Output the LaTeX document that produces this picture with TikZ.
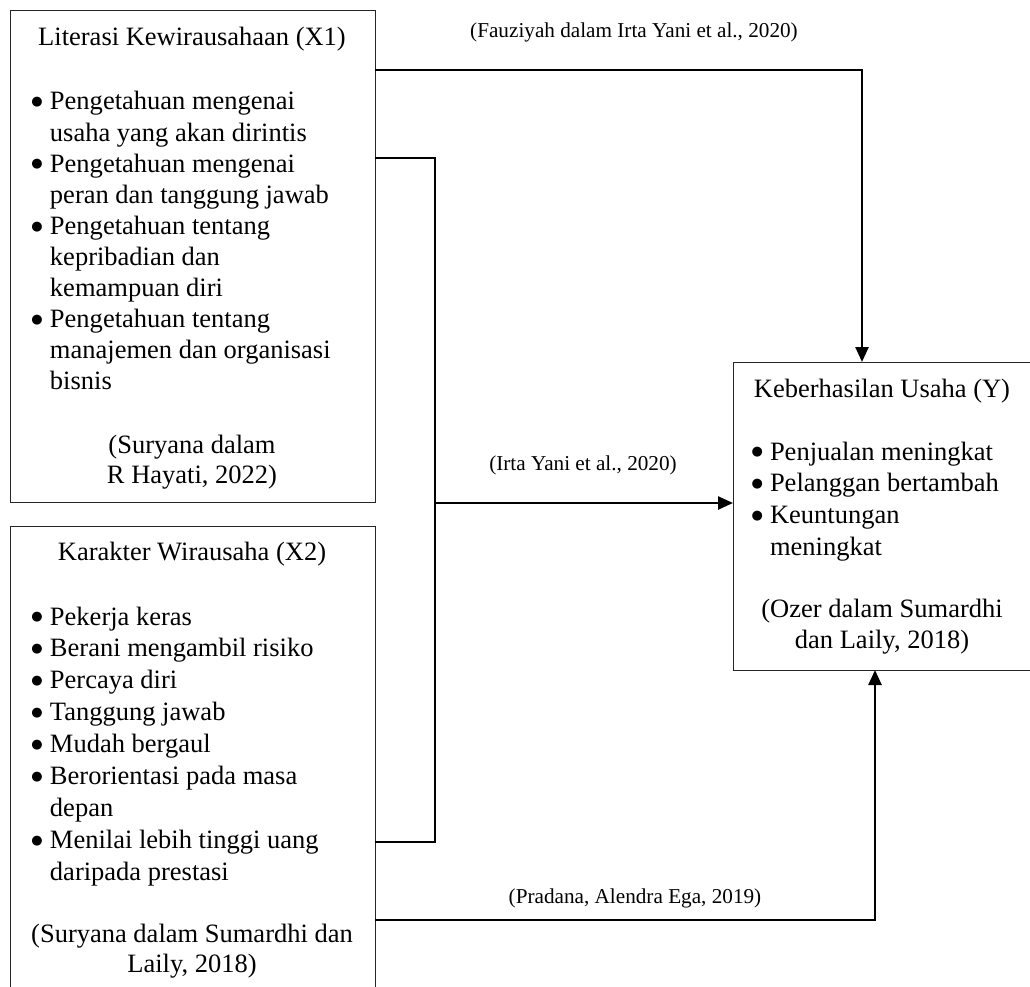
\documentclass[tikz,border=0pt]{standalone}
\usepackage{fontspec}
\setmainfont{Liberation Serif}
\newfontfamily\dvsans{DejaVu Sans}
\usetikzlibrary{arrows.meta}
\newlength{\bw}
\newcommand{\bitem}[1]{\par\hangindent=\bw\hangafter=1\noindent\makebox[\bw][l]{\hspace{1.5pt}\raisebox{4.3pt}{\dvsans\fontsize{13}{13}\selectfont ●}}#1}
\newcommand{\blist}[3]{\vtop{\hsize=#1\parindent=0pt\parskip=0pt\baselineskip=#2\raggedright #3\par}}
\newcommand{\ctext}[3]{\vtop{\hsize=#1\parindent=0pt\parskip=0pt\baselineskip=#2\centering #3\par}}
\begin{document}
\begin{tikzpicture}[x=1pt,y=-1pt,
  box/.style={draw=black!85,line width=1pt,inner sep=0pt,outer sep=0pt},
  maintxt/.style={font=\fontsize{26.5}{31.5}\selectfont,inner sep=0pt,outer sep=0pt},
  listtxt/.style={maintxt,anchor=base west},
  cite/.style={maintxt,anchor=base},
  lab/.style={font=\fontsize{21.2}{25}\selectfont,inner sep=0pt,anchor=base},
  conn/.style={line width=2.5pt,black},
  arr/.style={-{Triangle[length=15pt,width=13pt]}}]
\useasboundingbox (0,0) rectangle (1030,987);

% boxes
\node[box,minimum width=365pt,minimum height=491pt] (x1) at (192.5,256.5) {};
\node[box,minimum width=365pt,minimum height=470pt] (x2) at (192.5,761) {};
\node[box,minimum width=306pt,minimum height=308pt] (y) at (886,516) {};

% X1 text
\node[maintxt,anchor=base] (x1t) at (192,46) {Literasi Kewirausahaan (X1)};
\node[listtxt] (x1l) at (30,110) {\setlength{\bw}{20pt}\blist{340pt}{31.1pt}{%
\bitem{Pengetahuan mengenai\newline usaha yang akan dirintis}%
\bitem{Pengetahuan mengenai\newline peran dan tanggung jawab}%
\bitem{Pengetahuan tentang\newline kepribadian dan\newline kemampuan diri}%
\bitem{Pengetahuan tentang\newline manajemen dan organisasi\newline bisnis}}};
\node[cite] (x1c) at (192,453) {\ctext{340pt}{30.5pt}{(Suryana dalam\par R Hayati, 2022)}};

% X2 text
\node[maintxt,anchor=base] (x2t) at (192,560) {Karakter Wirausaha (X2)};
\node[listtxt] (x2l) at (30,625) {\setlength{\bw}{20pt}\blist{340pt}{31.9pt}{%
\bitem{Pekerja keras}%
\bitem{Berani mengambil risiko}%
\bitem{Percaya diri}%
\bitem{Tanggung jawab}%
\bitem{Mudah bergaul}%
\bitem{Berorientasi pada masa\newline depan}%
\bitem{Menilai lebih tinggi uang\newline daripada prestasi}}};
\node[cite] (x2c) at (192,942) {\ctext{350pt}{30.5pt}{(Suryana dalam Sumardhi dan\par Laily, 2018)}};

% Y text
\node[maintxt,anchor=base] (yt) at (882,397) {Keberhasilan Usaha (Y)};
\node[listtxt] (yl) at (750,460) {\setlength{\bw}{20pt}\blist{270pt}{31.7pt}{%
\bitem{Penjualan meningkat}%
\bitem{Pelanggan bertambah}%
\bitem{Keuntungan\newline meningkat}}};
\node[cite] (yc) at (882,617) {\ctext{280pt}{31pt}{(Ozer dalam Sumardhi\par dan Laily, 2018)}};

% connector labels
\node[lab] (l1) at (634,38) {(Fauziyah dalam Irta Yani et al., 2020)};
\node[lab] (l2) at (583,470) {(Irta Yani et al., 2020)};
\node[lab] (l3) at (635,903) {(Pradana, Alendra Ega, 2019)};

% connector bend points
\coordinate (t1) at (862,70);
\coordinate (a1) at (435,158);
\coordinate (a2) at (435,842);
\coordinate (j) at (435,503);
\coordinate (b1) at (875,920);

\draw[conn,arr] (x1.east |- t1) -- (t1) -- (y.north -| t1);
\draw[conn] (x1.east |- a1) -- (a1) -- (a2) -- (x2.east |- a2);
\draw[conn,arr] (j) -- (y.west |- j);
\draw[conn,arr] (x2.east |- b1) -- (b1) -- (y.south -| b1);
\end{tikzpicture}
\end{document}
